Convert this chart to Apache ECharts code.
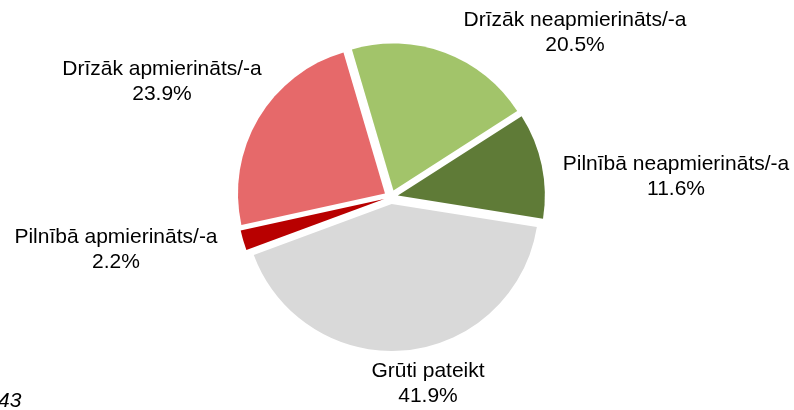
<!DOCTYPE html>
<html>
<head>
<meta charset="utf-8">
<script src="https://cdn.jsdelivr.net/npm/echarts@6/dist/echarts.min.js"></script>
<style>
  html, body { margin: 0; padding: 0; background: #fff; }
  #main { width: 794px; height: 410px; }
</style>
</head>
<body>
<div id="main"></div>
<script>
// kategorijas pulksteņrādītāja virzienā, sākot no augšas
var categories = ['Drīzāk neapmierināts/-a', 'Pilnībā neapmierināts/-a', 'Grūti pateikt', 'Pilnībā apmierināts/-a', 'Drīzāk apmierināts/-a'];
var values = [20.5, 11.6, 41.9, 2.2, 23.9];
var colors = ['#a2c46a', '#5f7b37', '#d9d9d9', '#b80000', '#e6696a'];
// etiķešu centri (px)
var labelX = [575, 676, 428, 116, 162];
var labelY = [33, 177, 384, 250, 82];

var FONT = '"Liberation Sans", Arial, sans-serif';

var chart = echarts.init(document.getElementById('main'));

// etiķetes kā teksta elementi
var labels = categories.map(function (name, i) {
  return {
    type: 'text',
    x: labelX[i],
    y: labelY[i],
    style: {
      text: name + '\n' + values[i].toFixed(1) + '%',
      fontFamily: FONT,
      fontSize: 21,
      lineHeight: 25,
      fill: '#000',
      align: 'center',
      verticalAlign: 'middle'
    }
  };
});

labels.push({
  type: 'text',
  x: -2,
  y: 412,
  style: {text: '43', fontFamily: FONT, fontStyle: 'italic', fontSize: 21, fill: '#000', verticalAlign: 'bottom'}
});

var option = {
  animation: false,
  graphic: labels,
  series: [{
    type: 'pie',
    center: [391, 197],
    radius: [0, 147],
    startAngle: 106.4,
    clockwise: true,
    selectedMode: 'multiple',
    selectedOffset: 7,
    emphasis: {disabled: true},
    itemStyle: {borderWidth: 0},
    label: {show: false},
    labelLine: {show: false},
    data: categories.map(function (name, i) {
      return {name: name, value: values[i], selected: true, itemStyle: {color: colors[i]}};
    })
  }]
};

chart.setOption(option);
</script>
</body>
</html>
